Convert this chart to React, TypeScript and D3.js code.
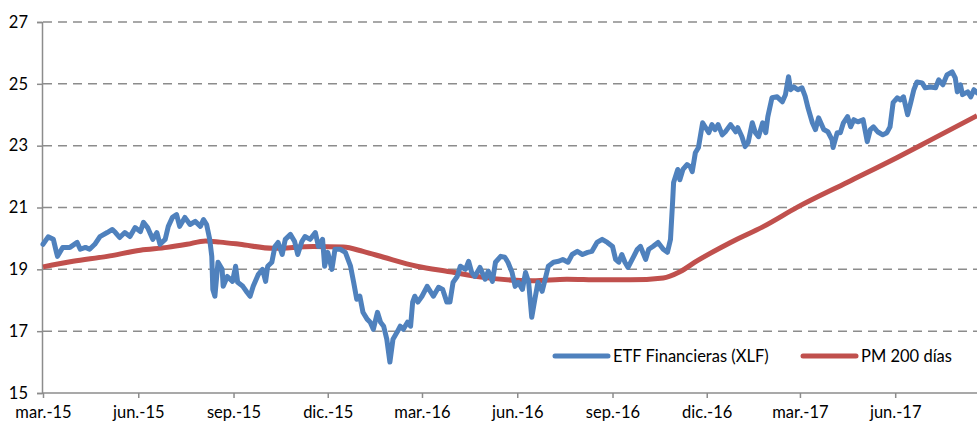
import React, { useEffect, useRef } from 'react';
import * as d3 from 'd3';

// días desde el 1-mar-2015 y cotización del ETF (XLF)
const xlfDays = [
  0, 5, 10, 13, 14, 19, 26, 33, 36, 41, 45, 50, 55, 62, 67, 70, 74, 79, 84, 89, 94, 97, 101, 106, 110, 113, 118, 121,
  125, 129, 132, 137, 142, 147, 152, 155, 158, 161, 163, 164, 166, 169, 173, 174, 178, 183, 186, 188, 193, 197, 200,
  203, 208, 212, 215, 217, 221, 224, 227, 231, 234, 239, 243, 246, 250, 253, 258, 263, 266, 270, 272, 275, 279, 282,
  287, 292, 297, 300, 303, 306, 309, 313, 316, 319, 323, 326, 329, 332, 335, 338, 342, 345, 348, 352, 355, 357, 359,
  362, 366, 371, 377, 382, 386, 390, 393, 396, 400, 403, 408, 411, 414, 417, 422, 427, 430, 434, 437, 442, 446, 449,
  453, 456, 459, 463, 466, 469, 472, 475, 478, 482, 485, 488, 493, 498, 502, 507, 511, 516, 521, 526, 530, 535, 540,
  545, 550, 553, 556, 559, 562, 565, 569, 574, 577, 582, 585, 589, 594, 599, 603, 606, 608, 609, 613, 615, 618, 622,
  625, 627, 630, 633, 637, 640, 643, 646, 649, 652, 656, 659, 664, 669, 671, 675, 678, 681, 685, 688, 691, 695, 698,
  700, 704, 709, 714, 717, 720, 722, 725, 729, 733, 736, 739, 743, 746, 749, 754, 758, 762, 763, 767, 770, 773, 777,
  780, 783, 787, 792, 796, 799, 802, 806, 811, 815, 818, 821, 825, 828, 831, 835, 838, 841, 844, 849, 852, 857, 862,
  865, 869, 873, 878, 881, 883, 886, 888, 893, 896, 899, 902,
];
const xlfValues = [
  19.81, 20.05, 19.97, 19.55, 19.42, 19.71, 19.71, 19.87, 19.65, 19.71, 19.65, 19.81, 20.06, 20.19, 20.29, 20.19, 20.03,
  20.19, 20.06, 20.35, 20.22, 20.52, 20.35, 19.97, 20.19, 19.81, 19.97, 20.39, 20.68, 20.77, 20.39, 20.68, 20.45, 20.55,
  20.39, 20.61, 20.45, 19.97, 19.42, 18.35, 18.13, 19.23, 19.0, 18.45, 18.77, 18.61, 19.1, 18.58, 18.45, 18.26, 18.13,
  18.45, 18.84, 19.0, 18.61, 19.1, 19.23, 19.74, 19.87, 19.48, 19.97, 20.13, 19.9, 19.48, 19.9, 20.06, 19.97, 20.19,
  19.74, 19.97, 19.1, 19.55, 19.0, 19.65, 19.65, 19.55, 19.1, 18.58, 18.03, 18.13, 17.61, 17.39, 17.29, 17.06, 17.61,
  17.29, 17.16, 16.74, 16.0, 16.74, 16.97, 17.16, 17.06, 17.29, 17.16, 17.94, 18.13, 17.94, 18.13, 18.45, 18.13, 18.42,
  18.35, 17.94, 17.94, 18.58, 18.77, 19.1, 19.0, 19.26, 18.9, 18.77, 19.06, 18.68, 18.94, 18.61, 19.23, 19.42, 19.39,
  19.23, 18.9, 18.45, 18.58, 18.35, 18.9, 18.58, 17.45, 18.03, 18.58, 18.29, 18.68, 19.1, 19.23, 19.26, 19.32, 19.23,
  19.48, 19.58, 19.48, 19.55, 19.58, 19.87, 19.97, 19.87, 19.74, 19.32, 19.23, 19.48, 19.23, 19.06, 19.32, 19.65, 19.74,
  19.32, 19.65, 19.74, 19.87, 19.65, 19.55, 19.97, 21.16, 21.81, 22.23, 21.9, 22.23, 22.39, 22.32, 22.16, 22.77, 22.94,
  23.74, 23.58, 23.42, 23.68, 23.52, 23.68, 23.35, 23.45, 23.68, 23.45, 23.58, 23.29, 22.97, 23.1, 23.74, 23.42, 23.29,
  23.74, 23.42, 23.94, 24.55, 24.58, 24.42, 24.65, 25.23, 24.81, 24.9, 24.81, 24.87, 24.6, 24.2, 23.74, 23.52, 23.9,
  23.52, 23.45, 23.19, 22.94, 23.42, 23.42, 23.74, 23.94, 23.61, 23.84, 23.77, 23.84, 23.13, 23.52, 23.61, 23.45, 23.35,
  23.42, 23.61, 24.39, 24.55, 24.48, 24.58, 24.0, 24.39, 24.81, 25.06, 25.03, 24.87, 24.9, 24.87, 25.13, 24.97, 25.29,
  25.39, 25.19, 24.74, 24.97, 24.65, 24.74, 24.58, 24.81, 24.71,
];

// media móvil de 200 días
const pmDays = [0, 29, 62, 94, 120, 139, 157, 171, 190, 222, 261, 290, 309, 329, 361, 393, 425, 473, 506, 538, 567, 599, 615, 632, 664, 696, 729, 777, 825, 857, 902];
const pmValues = [19.08, 19.26, 19.42, 19.62, 19.71, 19.81, 19.92, 19.88, 19.81, 19.68, 19.74, 19.72, 19.58, 19.39, 19.1, 18.92, 18.74, 18.63, 18.68, 18.66, 18.66, 18.72, 18.92, 19.28, 19.87, 20.39, 21.02, 21.82, 22.62, 23.18, 23.97];

const tickMonths = ['2015-03-01', '2015-06-01', '2015-09-01', '2015-12-01', '2016-03-01', '2016-06-01', '2016-09-01', '2016-12-01', '2017-03-01', '2017-06-01'];
const tickLabels = ['mar.-15', 'jun.-15', 'sep.-15', 'dic.-15', 'mar.-16', 'jun.-16', 'sep.-16', 'dic.-16', 'mar.-17', 'jun.-17'];
const yTicks = [15, 17, 19, 21, 23, 25, 27];
const seriesNames = ['ETF Financieras (XLF)', 'PM 200 días'];
const seriesColors = ['#4F81BD', '#C0504D'];

const start = new Date(2015, 2, 1);
const end = new Date(2017, 7, 19);

const App: React.FC = () => {
  const svgRef = useRef<SVGSVGElement>(null);

  useEffect(() => {
    document.body.style.margin = '0';
    if (!svgRef.current) return;
    const width = 977;
    const height = 427;
    const left = 43, right = 977, top = 22, bottom = 393;
    const font = 'Lato, "Open Sans", sans-serif';
    const fontSize = 16.5;

    const svg = d3.select(svgRef.current);
    svg.selectAll('*').remove();
    svg.attr('width', width).attr('height', height);

    const x = d3.scaleTime().domain([start, end]).range([left, right]);
    const y = d3.scaleLinear().domain([15, 27]).range([bottom, top]);

    // gridlines
    svg.append('g')
      .selectAll('line')
      .data(yTicks.filter(t => t > 15))
      .enter()
      .append('line')
      .attr('x1', left).attr('x2', width)
      .attr('y1', d => y(d)).attr('y2', d => y(d))
      .attr('stroke', '#8c8c8c')
      .attr('stroke-width', 1.5)
      .attr('stroke-dasharray', '9,6');

    // y axis
    const yAxis = svg.append('g').attr('transform', `translate(${left - 1},0)`)
      .call(d3.axisLeft(y).tickValues(yTicks).tickSize(5).tickPadding(9).tickFormat(d => `${d}`));
    yAxis.select('.domain').attr('stroke', '#8c8c8c').attr('stroke-width', 1.5);
    yAxis.selectAll('.tick line').attr('stroke', '#8c8c8c').attr('stroke-width', 1.5);
    yAxis.selectAll('text').attr('font-family', font).attr('font-size', fontSize).attr('fill', '#000');

    // x axis
    const tickDates = tickMonths.map(s => d3.timeParse('%Y-%m-%d')(s)!);
    const xAxis = svg.append('g').attr('transform', `translate(0,${bottom})`)
      .call(d3.axisBottom(x).tickValues(tickDates).tickSizeOuter(0).tickSize(5).tickPadding(8)
        .tickFormat((_, i) => tickLabels[i]));
    xAxis.select('.domain').attr('stroke', '#8c8c8c').attr('stroke-width', 1.5).attr('d', `M${left - 1},0H${width}`);
    xAxis.selectAll('.tick line').attr('stroke', '#8c8c8c').attr('stroke-width', 1.5);
    xAxis.selectAll('text').attr('font-family', font).attr('font-size', fontSize).attr('fill', '#000');

    const xlf = xlfDays.map((d, i) => ({ date: d3.timeDay.offset(start, d), v: xlfValues[i] }));
    const pm = pmDays.map((d, i) => ({ date: d3.timeDay.offset(start, d), v: pmValues[i] }));

    const line = d3.line<{ date: Date; v: number }>()
      .x(d => x(d.date))
      .y(d => y(d.v));

    svg.append('path')
      .datum(pm)
      .attr('fill', 'none')
      .attr('stroke', seriesColors[1])
      .attr('stroke-width', 5)
      .attr('d', line.curve(d3.curveMonotoneX));

    svg.append('path')
      .datum(xlf)
      .attr('fill', 'none')
      .attr('stroke', seriesColors[0])
      .attr('stroke-width', 5)
      .attr('stroke-linejoin', 'round')
      .attr('stroke-linecap', 'round')
      .attr('d', line.curve(d3.curveLinear));

    // legend
    const legendX = [555, 803];
    const lg = svg.append('g');
    seriesNames.forEach((name, i) => {
      lg.append('line')
        .attr('x1', legendX[i]).attr('x2', legendX[i] + 53)
        .attr('y1', 356).attr('y2', 356)
        .attr('stroke', seriesColors[i])
        .attr('stroke-width', 5)
        .attr('stroke-linecap', 'round');
      lg.append('text')
        .attr('x', legendX[i] + 58)
        .attr('y', 356)
        .attr('dy', '0.35em')
        .attr('font-family', font)
        .attr('font-size', fontSize)
        .text(name);
    });
  }, []);

  return <svg ref={svgRef}></svg>;
};

export default App;
